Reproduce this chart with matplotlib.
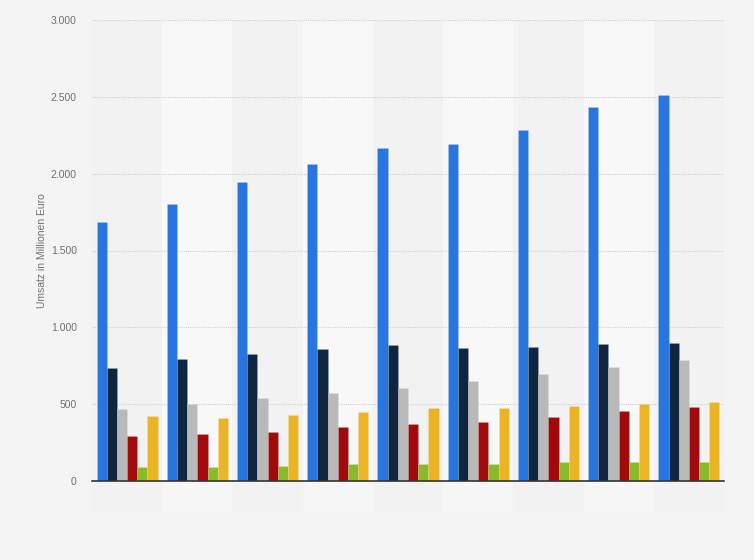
import numpy as np
import matplotlib.pyplot as plt
from matplotlib.patches import Rectangle
from matplotlib.ticker import FuncFormatter

plt.rcParams['font.family'] = ['Liberation Sans', 'DejaVu Sans']

# values (Mio. Euro), 9 groups without labels
blue = [1687, 1804, 1948, 2065, 2170, 2196, 2287, 2431, 2515]
navy = [738, 796, 824, 857, 883, 863, 872, 889, 898]
gray = [471, 503, 538, 571, 603, 649, 694, 740, 787]
red = [291, 304, 321, 349, 369, 382, 416, 453, 481]
green = [92, 92, 100, 109, 109, 109, 126, 126, 126]
yellow = [421, 412, 427, 447, 473, 473, 486, 499, 516]

series = [blue, navy, gray, red, green, yellow]
colors = ['#2876dd', '#0f2640', '#b9b9b9', '#a10a0a', '#8aba2a', '#ebb424']

fig = plt.figure(figsize=(7.54, 5.6), dpi=100, facecolor='#f4f4f4')
ax = fig.add_axes([92 / 754, 1 - 481 / 560, 632 / 754, 461 / 560])
ax.set_facecolor('#f3f3f3')

n = len(blue)
x = np.arange(n)
w = 0.145

# alternating column bands, faintly continued under the axis
for i in range(n):
    fc = '#f8f8f8' if i % 2 else '#f2f2f2'
    ax.add_patch(Rectangle((i - 0.5, 0), 1, 3000, facecolor=fc,
                           edgecolor='none', zorder=0))
    ax.add_patch(Rectangle((i - 0.5, -200), 1, 200, facecolor=fc, alpha=0.5,
                           edgecolor='none', zorder=0, clip_on=False))

for k, (vals, c) in enumerate(zip(series, colors)):
    off = (k - 2.5) * w
    ax.bar(x + off, vals, width=w, color=c, zorder=3,
           edgecolor=(1, 1, 1, 0.2), linewidth=0.4)

ax.set_xlim(-0.5, n - 0.5)
ax.set_ylim(0, 3000)
ax.set_yticks(np.arange(0, 3001, 500))
ax.yaxis.set_major_formatter(FuncFormatter(lambda v, p: f'{int(v):,}'.replace(',', '.')))
ax.set_xticks([])
ax.grid(axis='y', color='#d0d0d0', linestyle=(0, (1, 1)), linewidth=0.8, zorder=1)
ax.tick_params(axis='y', length=0, labelsize=7.5, labelcolor='#707070', pad=11)
for s in ['top', 'right', 'left']:
    ax.spines[s].set_visible(False)
ax.spines['bottom'].set_color('#333333')
ax.spines['bottom'].set_linewidth(1.2)
ax.spines['bottom'].set_zorder(4)

ax.set_ylabel('Umsatz in Millionen Euro', fontsize=7.5, color='#707070', labelpad=3)

fig.savefig('out.png', dpi=100, facecolor=fig.get_facecolor())
